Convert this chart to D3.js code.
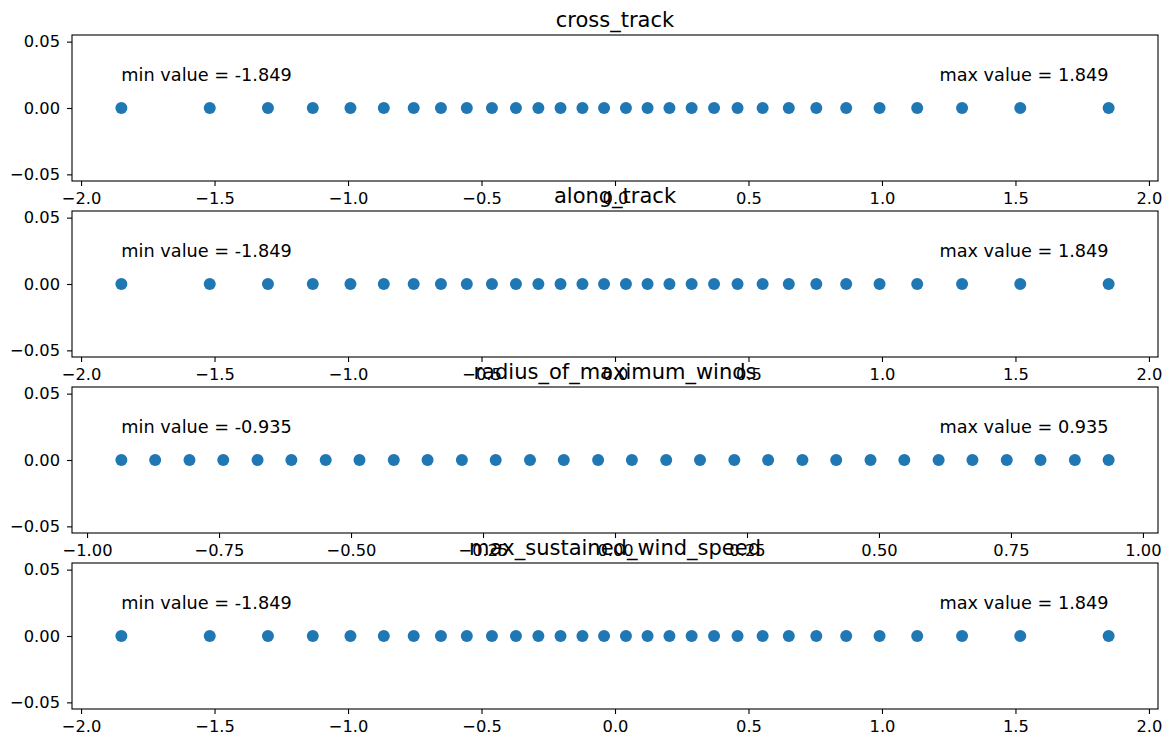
<!DOCTYPE html>
<html>
<head>
<meta charset="utf-8">
<script src="https://cdn.jsdelivr.net/npm/d3@7"></script>
<style>
  body { margin: 0; background: #fff; }
  svg { display: block; font-family: "DejaVu Sans", sans-serif; }
</style>
</head>
<body>
<svg id="chart" width="1169" height="743"></svg>
<script>
// panel titles
const titles = ['cross_track', 'along_track', 'radius_of_maximum_winds', 'max_sustained_wind_speed'];

// values (all points sit on y = 0)
const crossTrack = [-1.849, -1.518, -1.300, -1.132, -0.991, -0.866, -0.754, -0.652, -0.555, -0.461,
  -0.371, -0.287, -0.204, -0.122, -0.041, 0.041, 0.122, 0.204, 0.287, 0.371,
  0.459, 0.553, 0.651, 0.754, 0.866, 0.991, 1.132, 1.300, 1.518, 1.849];
const alongTrack = [-1.849, -1.518, -1.300, -1.132, -0.991, -0.866, -0.754, -0.652, -0.555, -0.461,
  -0.371, -0.287, -0.204, -0.122, -0.041, 0.041, 0.122, 0.204, 0.287, 0.371,
  0.459, 0.553, 0.651, 0.754, 0.866, 0.991, 1.132, 1.300, 1.518, 1.849];
const radiusMaxWinds = [-0.935, -0.871, -0.806, -0.742, -0.677, -0.613, -0.548, -0.484, -0.419, -0.355,
  -0.290, -0.226, -0.161, -0.097, -0.032, 0.032, 0.097, 0.161, 0.226, 0.290,
  0.355, 0.419, 0.484, 0.548, 0.613, 0.677, 0.742, 0.806, 0.871, 0.935];
const maxSustainedWind = [-1.849, -1.518, -1.300, -1.132, -0.991, -0.866, -0.754, -0.652, -0.555, -0.461,
  -0.371, -0.287, -0.204, -0.122, -0.041, 0.041, 0.122, 0.204, 0.287, 0.371,
  0.459, 0.553, 0.651, 0.754, 0.866, 0.991, 1.132, 1.300, 1.518, 1.849];

// tick values
const xTicksWide = [-2.0, -1.5, -1.0, -0.5, 0.0, 0.5, 1.0, 1.5, 2.0];
const xTicksNarrow = [-1.00, -0.75, -0.50, -0.25, 0.00, 0.25, 0.50, 0.75, 1.00];
const yTicks = [-0.05, 0.00, 0.05];

const panels = [
  { title: titles[0], values: crossTrack, ticks: xTicksWide, digits: 1 },
  { title: titles[1], values: alongTrack, ticks: xTicksWide, digits: 1 },
  { title: titles[2], values: radiusMaxWinds, ticks: xTicksNarrow, digits: 2 },
  { title: titles[3], values: maxSustainedWind, ticks: xTicksWide, digits: 1 }
];

const svg = d3.select('#chart');
const left = 72, right = 1158;
const tops = [35, 211, 387, 563];
const h = 146;
const blue = '#1f77b4';
const minus = s => s.replace('-', '\u2212');

panels.forEach(function (p, i) {
  const top = tops[i];
  const lo = d3.min(p.values), hi = d3.max(p.values);
  const pad = (hi - lo) * 0.05;

  const x = d3.scaleLinear().domain([lo - pad, hi + pad]).range([left, right]);
  const y = d3.scaleLinear().domain([-0.055, 0.055]).range([top + h, top]);

  const g = svg.append('g');

  g.append('rect')
    .attr('x', left).attr('y', top)
    .attr('width', right - left).attr('height', h)
    .attr('fill', '#fff');

  // points
  g.selectAll('circle')
    .data(p.values)
    .enter().append('circle')
    .attr('cx', d => x(d))
    .attr('cy', y(0))
    .attr('r', 6)
    .attr('fill', blue);

  // min / max notes
  g.append('text')
    .attr('x', x(lo)).attr('y', y(0.02))
    .attr('font-size', 17.7).attr('fill', '#000')
    .text('min value = ' + lo.toFixed(3));
  g.append('text')
    .attr('x', x(hi)).attr('y', y(0.02))
    .attr('text-anchor', 'end')
    .attr('font-size', 17.7).attr('fill', '#000')
    .text('max value = ' + hi.toFixed(3));

  // axes
  const xAxis = d3.axisBottom(x)
    .tickValues(p.ticks)
    .tickSize(5)
    .tickPadding(6)
    .tickFormat(d => minus(d.toFixed(p.digits)));
  const yAxis = d3.axisLeft(y)
    .tickValues(yTicks)
    .tickSize(5)
    .tickPadding(7)
    .tickFormat(d => minus(d.toFixed(2)));

  const gx = g.append('g')
    .attr('transform', 'translate(0,' + (top + h) + ')')
    .call(xAxis);
  const gy = g.append('g')
    .attr('transform', 'translate(' + left + ',0)')
    .call(yAxis);

  [gx, gy].forEach(function (a) {
    a.select('.domain').remove();
    a.selectAll('line').attr('stroke', '#000').attr('stroke-width', 1.1);
    a.selectAll('text').attr('font-size', 16.3).attr('fill', '#000')
      .attr('font-family', '"DejaVu Sans", sans-serif');
  });

  // frame
  g.append('rect')
    .attr('x', left).attr('y', top)
    .attr('width', right - left).attr('height', h)
    .attr('fill', 'none')
    .attr('stroke', '#000')
    .attr('stroke-width', 1.1);

  // title
  g.append('text')
    .attr('x', (left + right) / 2).attr('y', top - 8)
    .attr('text-anchor', 'middle')
    .attr('font-size', 21).attr('fill', '#000')
    .text(p.title);
});
</script>
</body>
</html>
